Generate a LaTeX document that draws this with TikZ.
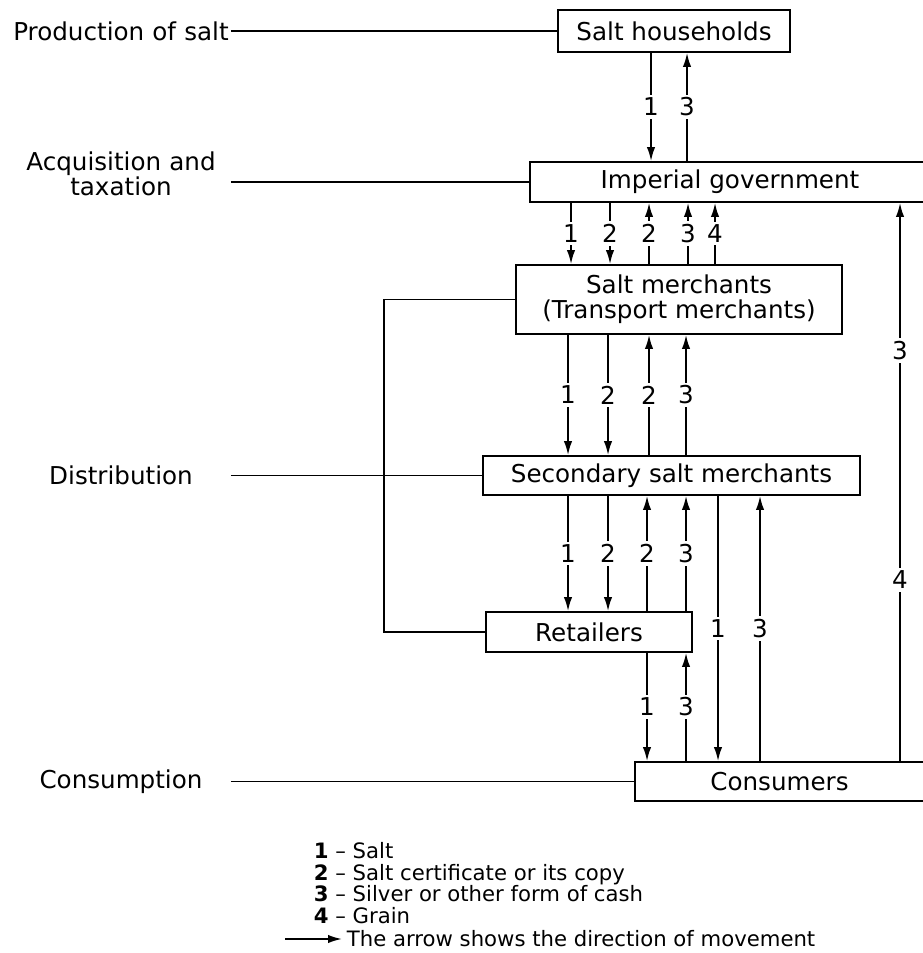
\documentclass[tikz,border=0pt]{standalone}
\usepackage{fontspec}
\setmainfont{DejaVu Sans}
\usetikzlibrary{arrows.meta}

\begin{document}
\begin{tikzpicture}[
  x=0.5pt, y=-0.5pt,
  font=\fontsize{12.3}{12.5}\selectfont,
  line width=0.9pt,
  box/.style={
    draw,
    align=center,
    inner sep=2pt
  },
  stage/.style={
    text width=109pt,
    align=center,
    inner sep=0pt
  },
  flow/.style={-{Latex[length=7pt,width=4.2pt]}},
  num/.style={fill=white, inner sep=1.5pt},
  key/.style={
    font=\fontsize{10.6}{10.75}\selectfont,
    align=left,
    inner sep=0pt
  }
]
\useasboundingbox (0,0) rectangle (922,953);

% the six levels
\node[box, minimum width=116pt, minimum height=21pt] (hh) at (674,31)
  {Salt households};
\node[box, minimum width=200pt, minimum height=20pt] (imp) at (730,182)
  {Imperial government};
\node[box, minimum width=163pt, minimum height=34.5pt] (sm) at (679,299.5)
  {Salt merchants\\(Transport merchants)};
\node[box, minimum width=188.5pt, minimum height=19.5pt] (sec) at (671.5,475.5)
  {Secondary salt merchants};
\node[box, minimum width=103pt, minimum height=20pt] (ret) at (589,632)
  {Retailers};
\node[box, minimum width=144.5pt, minimum height=19.5pt] (cons) at (779.5,781.5)
  {Consumers};

% stages on the left
\node[stage] (prod) at (121,31) {Production of salt};
\node[stage] (acq) at (121,174) {Acquisition and\\taxation};
\node[stage] (dist) at (121,475.5) {Distribution};
\node[stage] (use) at (121,781.5) {Consumption};

\draw (prod) -- (hh);
\draw (acq.east |- imp) -- (imp);
\draw (dist) -- (sec);
\draw (use) -- (cons);

% salt merchants also supply retailers
\draw (sm.west) -- (sm.west -| 384,0) |- (ret.west);

% households and government
\draw[flow] (hh.south -| 651,0) -- node[num] {1} (imp.north -| 651,0);
\draw[flow] (imp.north -| 687,0) -- node[num] {3} (hh.south -| 687,0);

% government and salt merchants
\draw[flow] (imp.south -| 571,0) -- node[num] {1} (sm.north -| 571,0);
\draw[flow] (imp.south -| 610,0) -- node[num] {2} (sm.north -| 610,0);
\draw[flow] (sm.north -| 649,0) -- node[num] {2} (imp.south -| 649,0);
\draw[flow] (sm.north -| 688,0) -- node[num] {3} (imp.south -| 688,0);
\draw[flow] (sm.north -| 715,0) -- node[num] {4} (imp.south -| 715,0);

% salt merchants and secondary merchants
\draw[flow] (sm.south -| 568,0) -- node[num] {1} (sec.north -| 568,0);
\draw[flow] (sm.south -| 608,0) -- node[num] {2} (sec.north -| 608,0);
\draw[flow] (sec.north -| 649,0) -- node[num] {2} (sm.south -| 649,0);
\draw[flow] (sec.north -| 686,0) -- node[num] {3} (sm.south -| 686,0);

% secondary merchants and retailers
\draw[flow] (sec.south -| 568,0) -- node[num] {1} (ret.north -| 568,0);
\draw[flow] (sec.south -| 608,0) -- node[num] {2} (ret.north -| 608,0);
\draw[flow] (ret.north -| 647,0) -- node[num] {2} (sec.south -| 647,0);
\draw[flow] (ret.north -| 686,0) -- node[num] {3} (sec.south -| 686,0);

% secondary merchants and consumers
\draw[flow] (sec.south -| 718,0) -- node[num] {1} (cons.north -| 718,0);
\draw[flow] (cons.north -| 760,0) -- node[num] {3} (sec.south -| 760,0);

% retailers and consumers
\draw[flow] (ret.south -| 647,0) -- node[num] {1} (cons.north -| 647,0);
\draw[flow] (cons.north -| 686,0) -- node[num] {3} (ret.south -| 686,0);

% consumers pay the government
\draw[flow] (cons.north -| 900,0) -- node[num, pos=0.325] {4}
  node[num, pos=0.736] {3} (imp.south -| 900,0);

% key
\node[key, anchor=west] (legend) at (313,883)
  {\textbf{1} -- Salt\\
   \textbf{2} -- Salt certificate or its copy\\
   \textbf{3} -- Silver or other form of cash\\
   \textbf{4} -- Grain};
\node[key, anchor=west, inner sep=2pt] (keytxt) at (342,939)
  {The arrow shows the direction of movement};
\coordinate (keytail) at (285,939);
\draw[flow] (keytail) -- (keytxt);

\end{tikzpicture}
\end{document}
